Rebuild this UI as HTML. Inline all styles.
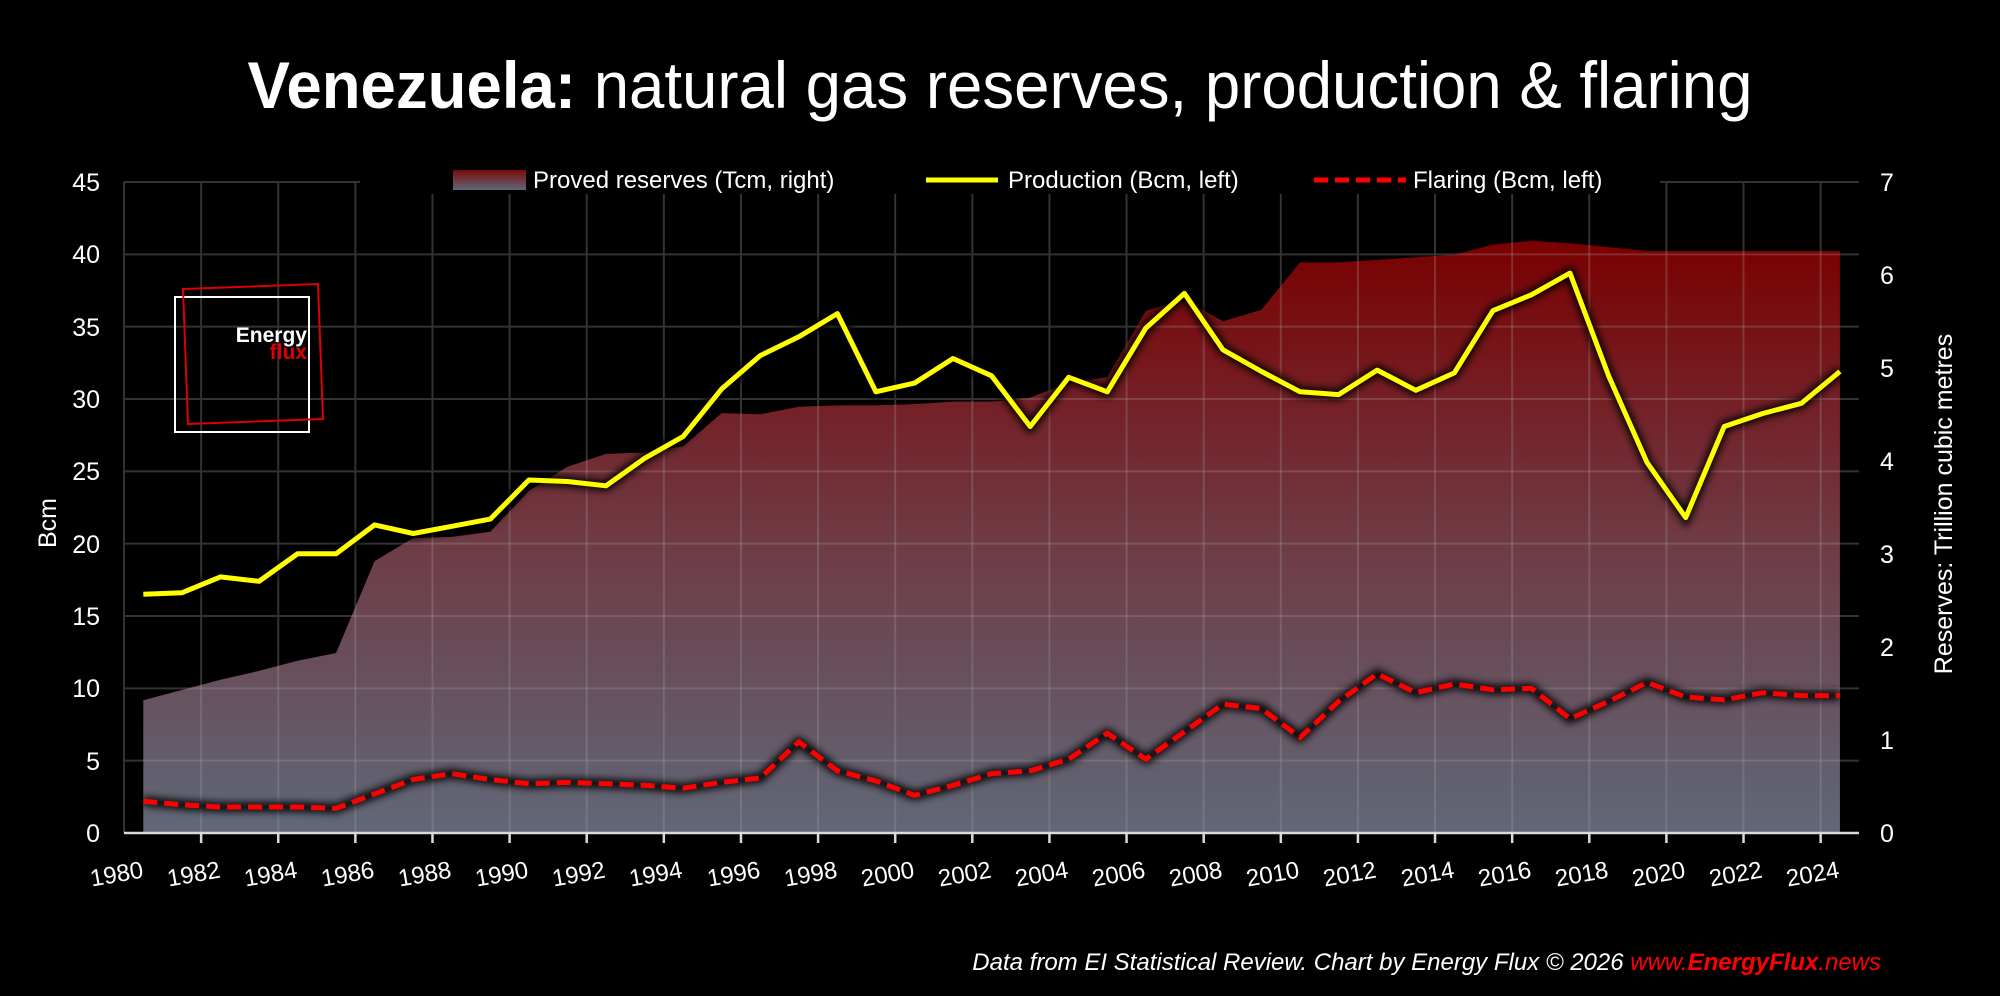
<!DOCTYPE html>
<html><head><meta charset="utf-8"><style>
html,body{margin:0;padding:0;background:#000;width:2000px;height:996px;overflow:hidden}
svg{display:block}
text{font-family:"Liberation Sans",sans-serif;fill:#fff}
</style></head><body>
<svg id="s" width="2000" height="996" viewBox="0 0 2000 996" xmlns="http://www.w3.org/2000/svg">
<defs>
<linearGradient id="g" x1="0" y1="240" x2="0" y2="833" gradientUnits="userSpaceOnUse">
<stop offset="0" stop-color="#7a0000"/>
<stop offset="0.5" stop-color="#6f3a44"/>
<stop offset="1" stop-color="#606878"/>
</linearGradient>
<linearGradient id="lg" x1="0" y1="0" x2="0" y2="1">
<stop offset="0" stop-color="#7a0a0a"/><stop offset="1" stop-color="#606878"/>
</linearGradient>
<filter id="sh" x="-10%" y="-10%" width="120%" height="120%"><feGaussianBlur stdDeviation="4"/></filter>
<clipPath id="ac"><path id="acp"/></clipPath>
</defs>
<rect width="2000" height="996" fill="#000"/>
<g id="grid" stroke="#333" stroke-width="2"></g>
<path id="area" fill="url(#g)"/>
<g id="grid2" stroke="rgba(170,170,170,0.25)" stroke-width="2" clip-path="url(#ac)"></g>
<rect x="360" y="160" width="1300" height="34" fill="#000"/>
<g id="lines"></g>
<line x1="124" y1="833" x2="1859" y2="833" stroke="#d9d9d9" stroke-width="2.5"/>
<g id="ticks" stroke="#d9d9d9" stroke-width="2.5"></g>

<text x="1000" y="108" font-size="66" text-anchor="middle" textLength="1505" lengthAdjust="spacingAndGlyphs"><tspan font-weight="bold">Venezuela:</tspan> natural gas reserves, production &amp; flaring</text>

<rect x="453" y="170" width="73" height="20" fill="url(#lg)"/>
<text x="533" y="188" font-size="24">Proved reserves (Tcm, right)</text>
<line x1="926" y1="180" x2="998" y2="180" stroke="#ffff00" stroke-width="5"/>
<text x="1008" y="188" font-size="24">Production (Bcm, left)</text>
<line x1="1314" y1="180" x2="1406" y2="180" stroke="#ff0000" stroke-width="5" stroke-dasharray="14,7"/>
<text x="1413" y="188" font-size="24">Flaring (Bcm, left)</text>

<g font-size="25" text-anchor="end">
<text x="100" y="842">0</text><text x="100" y="770">5</text><text x="100" y="697">10</text><text x="100" y="625">15</text><text x="100" y="553">20</text><text x="100" y="480">25</text><text x="100" y="408">30</text><text x="100" y="336">35</text><text x="100" y="263">40</text><text x="100" y="191">45</text>
</g>
<g font-size="25">
<text x="1880" y="842">0</text><text x="1880" y="749">1</text><text x="1880" y="656">2</text><text x="1880" y="563">3</text><text x="1880" y="470">4</text><text x="1880" y="377">5</text><text x="1880" y="284">6</text><text x="1880" y="191">7</text>
</g>
<text transform="translate(56,523) rotate(-90)" font-size="25" text-anchor="middle">Bcm</text>
<text transform="translate(1952,504) rotate(-90)" font-size="25" text-anchor="middle">Reserves: Trillion cubic metres</text>

<g font-size="24" text-anchor="middle">
<text transform="translate(118,882) rotate(-10)">1980</text>
<text transform="translate(195,882) rotate(-10)">1982</text>
<text transform="translate(272,882) rotate(-10)">1984</text>
<text transform="translate(349,882) rotate(-10)">1986</text>
<text transform="translate(426,882) rotate(-10)">1988</text>
<text transform="translate(503,882) rotate(-10)">1990</text>
<text transform="translate(580,882) rotate(-10)">1992</text>
<text transform="translate(657,882) rotate(-10)">1994</text>
<text transform="translate(735,882) rotate(-10)">1996</text>
<text transform="translate(812,882) rotate(-10)">1998</text>
<text transform="translate(889,882) rotate(-10)">2000</text>
<text transform="translate(966,882) rotate(-10)">2002</text>
<text transform="translate(1043,882) rotate(-10)">2004</text>
<text transform="translate(1120,882) rotate(-10)">2006</text>
<text transform="translate(1197,882) rotate(-10)">2008</text>
<text transform="translate(1274,882) rotate(-10)">2010</text>
<text transform="translate(1351,882) rotate(-10)">2012</text>
<text transform="translate(1429,882) rotate(-10)">2014</text>
<text transform="translate(1506,882) rotate(-10)">2016</text>
<text transform="translate(1583,882) rotate(-10)">2018</text>
<text transform="translate(1660,882) rotate(-10)">2020</text>
<text transform="translate(1737,882) rotate(-10)">2022</text>
<text transform="translate(1814,882) rotate(-10)">2024</text>
</g>

<rect x="175" y="297" width="134" height="135" fill="none" stroke="#fff" stroke-width="2"/>
<polygon points="183,289 318,284 323,419 188,424" fill="none" stroke="#e00000" stroke-width="2"/>
<text x="307" y="342" font-size="21" font-weight="bold" text-anchor="end">Energy</text>
<text x="307" y="359" font-size="21" font-weight="bold" text-anchor="end" style="fill:#e00000">flux</text>

<text x="1881" y="970" font-size="24" font-style="italic" text-anchor="end">Data from EI Statistical Review. Chart by Energy Flux © 2026 <tspan style="fill:#ff0000">www.<tspan font-weight="bold">EnergyFlux</tspan>.news</tspan></text>
</svg>
<script>
var NS="http://www.w3.org/2000/svg";
function X(i){return 124+(i+0.5)*38.56}
function Y(v){return 833-v*14.467}
function YR(v){return 833-v*93}
var prod=[16.5,16.6,17.7,17.4,19.3,19.3,21.3,20.7,21.2,21.7,24.4,24.3,24.0,25.9,27.4,30.7,33.0,34.3,35.9,30.5,31.1,32.8,31.6,28.1,31.5,30.5,34.9,37.3,33.4,31.9,30.5,30.3,32.0,30.6,31.8,36.1,37.2,38.7,31.6,25.6,21.8,28.1,29.0,29.7,31.9];
var flar=[2.2,1.95,1.8,1.8,1.8,1.7,2.7,3.7,4.1,3.7,3.4,3.5,3.4,3.3,3.1,3.5,3.8,6.3,4.3,3.6,2.6,3.3,4.1,4.3,5.1,6.9,5.1,7.0,8.9,8.6,6.6,9.1,11.0,9.7,10.3,9.9,10.0,7.9,9.1,10.4,9.4,9.2,9.7,9.5,9.5];
var resPx=[549,541,533,526,518,512,440,422,421,417,385,366,356,355,350,324,325,319,318,318,317,315,315,312,300,296,244,235,252,243,206,206,204,202,200,192,189,191,194,197,197,197,197,197,197];
var d="M"+X(0)+",833";
resPx.forEach(function(p,i){var t=(653-p)/72.86;d+=" L"+X(i).toFixed(1)+","+YR(t).toFixed(1)});
d+=" L"+X(44)+",833Z";
document.getElementById("area").setAttribute("d",d);
document.getElementById("acp").setAttribute("d",d);
function mk(tag,at,par){var e=document.createElementNS(NS,tag);for(var k in at)e.setAttribute(k,at[k]);par.appendChild(e);return e}
["grid","grid2"].forEach(function(id){var g=document.getElementById(id);
for(var v=5;v<=45;v+=5){mk("line",{x1:124,x2:1859,y1:Y(v),y2:Y(v)},g)}
for(var yr=1980;yr<=2024;yr+=2){var x=124+(yr-1980)*38.56;mk("line",{x1:x,x2:x,y1:182,y2:833},g)}});
var tk=document.getElementById("ticks");
for(var yr=1982;yr<=2024;yr+=2){var x=124+(yr-1980)*38.56;mk("line",{x1:x,x2:x,y1:833,y2:843},tk)}
function pts(a){return a.map(function(v,i){return X(i).toFixed(1)+","+Y(v).toFixed(1)}).join(" ")}
var L=document.getElementById("lines");
mk("polyline",{points:pts(flar),fill:"none",stroke:"#000","stroke-width":9,filter:"url(#sh)"},L);
mk("polyline",{points:pts(flar),fill:"none",stroke:"#ff0000","stroke-width":5,"stroke-dasharray":"14,7","stroke-linejoin":"round"},L);
mk("polyline",{points:pts(prod),fill:"none",stroke:"#000","stroke-width":10,filter:"url(#sh)"},L);
mk("polyline",{points:pts(prod),fill:"none",stroke:"#ffff00","stroke-width":5,"stroke-linejoin":"round"},L);
</script>
</body></html>
